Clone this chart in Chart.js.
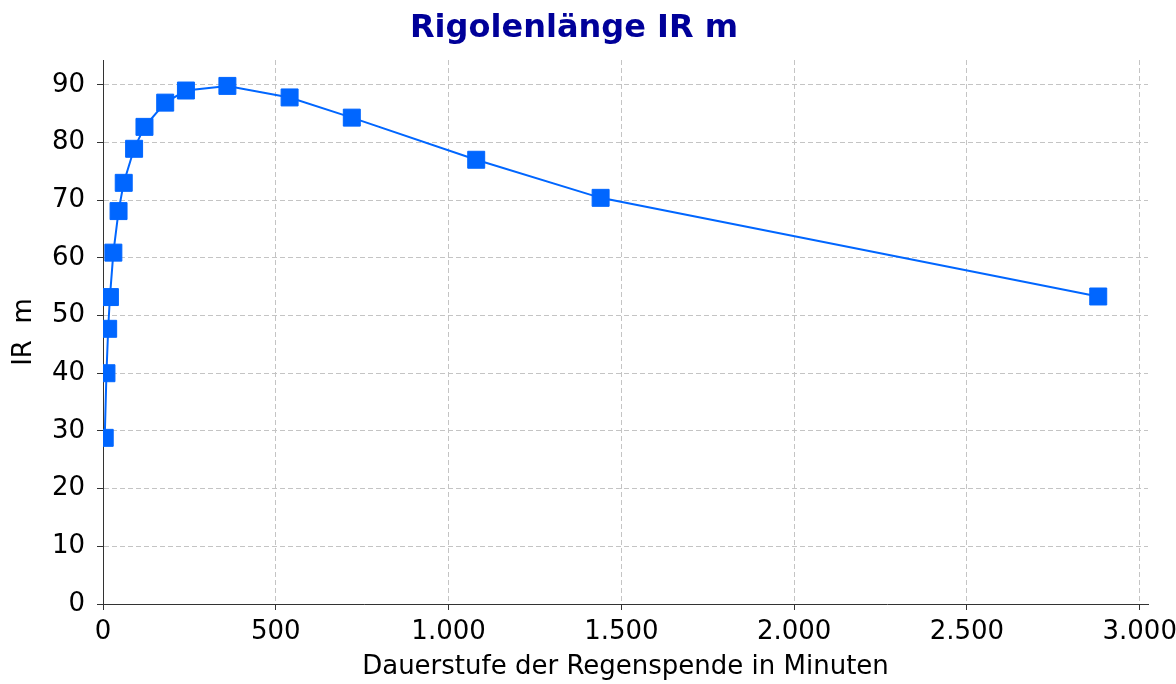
<!DOCTYPE html>
<html lang="de">
<head>
<meta charset="utf-8">
<title>Rigolenlänge IR m</title>
<script src="https://cdn.jsdelivr.net/npm/chart.js@4.4.1/dist/chart.umd.min.js"></script>
<style>
    html, body { margin: 0; padding: 0; background: #ffffff; }
    #wrap { width: 1176px; height: 684px; position: relative; }
</style>
</head>
<body>
<div id="wrap"><canvas id="chart"></canvas></div>
<script>
// Dauerstufen (Minuten) und Rigolenlänge (m)
const dauerstufen = [5, 10, 15, 20, 30, 45, 60, 90, 120, 180, 240, 360, 540, 720, 1080, 1440, 2880];
const rigolenlaenge = [28.8, 40.0, 47.7, 53.2, 60.9, 68.1, 73.0, 78.9, 82.7, 86.9, 89.0, 89.8, 87.8, 84.3, 77.0, 70.4, 53.3];

// Achsenteilung
const xTicks = [0, 500, 1000, 1500, 2000, 2500, 3000];
const yTicks = [0, 10, 20, 30, 40, 50, 60, 70, 80, 90];

const titel = 'Rigolenlänge IR m';
const xTitel = 'Dauerstufe der Regenspende in Minuten';
const yTitel = 'IR  m';

// Tausenderpunkt wie im Original (1.000, 2.500 ...)
function formatDe(value) {
    return String(Math.round(value)).replace(/\B(?=(\d{3})+(?!\d))/g, '.');
}

const fontFamily = '"DejaVu Sans", "Liberation Sans", sans-serif';
const blau = '#0066ff';

const punkte = dauerstufen.map(function (d, i) {
    return { x: d, y: rigolenlaenge[i] };
});

const xMax = Math.max(...dauerstufen) * 1.05;
const yMax = Math.max(...rigolenlaenge) * 1.05;

const gridCommon = {
    color: '#c4c4c4',
    lineWidth: 1,
    borderDash: [5, 3],
    tickColor: '#333333',
    tickLength: 6,
    tickWidth: 1,
    tickBorderDash: []
};

new Chart(document.getElementById('chart').getContext('2d'), {
    type: 'line',
    data: {
        datasets: [{
            data: punkte,
            borderColor: blau,
            backgroundColor: blau,
            borderWidth: 2,
            pointStyle: 'rect',
            pointRadius: 12,
            pointHoverRadius: 12,
            pointBorderWidth: 1,
            pointBorderColor: blau,
            pointBackgroundColor: blau,
            tension: 0,
            fill: false
        }]
    },
    options: {
        responsive: true,
        maintainAspectRatio: false,
        animation: false,
        layout: { padding: { left: 0, right: 28, top: 0, bottom: 0 } },
        plugins: {
            legend: { display: false },
            tooltip: { enabled: false },
            title: {
                display: true,
                text: titel,
                color: '#000099',
                font: { family: fontFamily, size: 32, weight: 'bold', lineHeight: 1.2 },
                padding: { top: 9, bottom: 12.6 }
            }
        },
        scales: {
            x: {
                type: 'linear',
                min: 0,
                max: xMax,
                afterFit: function (scale) {
                    scale.height = 80;
                    // das letzte Label darf wie im Original über den Rand laufen
                    scale.paddingRight = 0;
                    scale.paddingLeft = 0;
                },
                afterBuildTicks: function (scale) {
                    scale.ticks = xTicks.map(function (v) { return { value: v }; });
                },
                ticks: {
                    color: '#000000',
                    padding: 7,
                    maxRotation: 0,
                    autoSkip: false,
                    font: { family: fontFamily, size: 26 },
                    callback: function (v) { return formatDe(v); }
                },
                grid: gridCommon,
                border: { display: true, color: '#333333', width: 1, dash: [5, 3] },
                title: {
                    display: true,
                    text: xTitel,
                    color: '#000000',
                    font: { family: fontFamily, size: 26, lineHeight: 1.2 },
                    padding: { top: 0, bottom: 1 }
                }
            },
            y: {
                type: 'linear',
                min: 0,
                max: yMax,
                afterFit: function (scale) { scale.width = 103; },
                afterBuildTicks: function (scale) {
                    scale.ticks = yTicks.map(function (v) { return { value: v }; });
                },
                ticks: {
                    color: '#000000',
                    padding: 12,
                    autoSkip: false,
                    font: { family: fontFamily, size: 26 }
                },
                grid: gridCommon,
                border: { display: true, color: '#333333', width: 1, dash: [5, 3] },
                title: {
                    display: true,
                    text: yTitel,
                    color: '#000000',
                    font: { family: fontFamily, size: 26, lineHeight: 1.2 },
                    padding: { top: 9, bottom: 0 }
                }
            }
        }
    }
});
</script>
</body>
</html>
